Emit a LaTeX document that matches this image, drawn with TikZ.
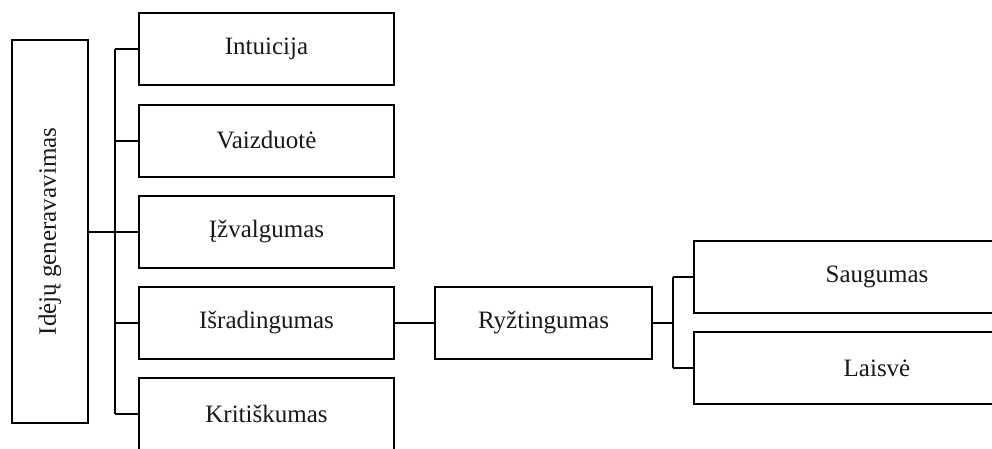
\documentclass[tikz,border=0pt]{standalone}
\usepackage{fontspec}
\setmainfont{Liberation Serif}
\begin{document}
\begin{tikzpicture}[x=1pt,y=-1pt,
  box/.style={draw=black, line width=2pt, fill=white, inner sep=0pt,
    font=\fontsize{25}{30}\selectfont, text=black!90},
  branch/.style={box, minimum width=255pt, minimum height=72pt},
  link/.style={draw=black, line width=2pt}]
\useasboundingbox (0,0) rectangle (992,448);
\clip (0,0) rectangle (992,448);

% root
\node[box, minimum width=76pt, minimum height=383pt] (root) at (50,231.5)
  {\rotatebox{90}{Idėjų generavavimas}};

% first level
\node[branch] (n1) at (266.5,49) {Intuicija};
\node[branch] (n2) at (266.5,140.5) {Vaizduotė};
\node[branch] (n3) at (266.5,231.5) {Įžvalgumas};
\node[branch] (n4) at (266.5,322.5) {Išradingumas};
\node[branch] (n5) at (266.5,414) {Kritiškumas};

% second and third level
\node[box, minimum width=217pt, minimum height=72pt] (r) at (543.5,322.5) {Ryžtingumas};
\node[box, minimum width=366pt, minimum height=72pt] (s1) at (877,277) {Saugumas};
\node[box, minimum width=366pt, minimum height=72pt] (s2) at (877,368) {Laisvė};

% connectors
\coordinate (tk) at (115,0);
\coordinate (tk2) at (673,0);
\draw[link] (root.east) -- (root.east -| tk);
\draw[link] (n1.west -| tk) -- (n5.west -| tk);
\foreach \c in {n1,n2,n3,n4,n5}
  \draw[link] (\c.west) -- (\c.west -| tk);
\draw[link] (n4.east) -- (r.west);
\draw[link] (r.east) -- (r.east -| tk2);
\draw[link] (s1.west -| tk2) -- (s2.west -| tk2);
\draw[link] (s1.west) -- (s1.west -| tk2);
\draw[link] (s2.west) -- (s2.west -| tk2);
\end{tikzpicture}
\end{document}
